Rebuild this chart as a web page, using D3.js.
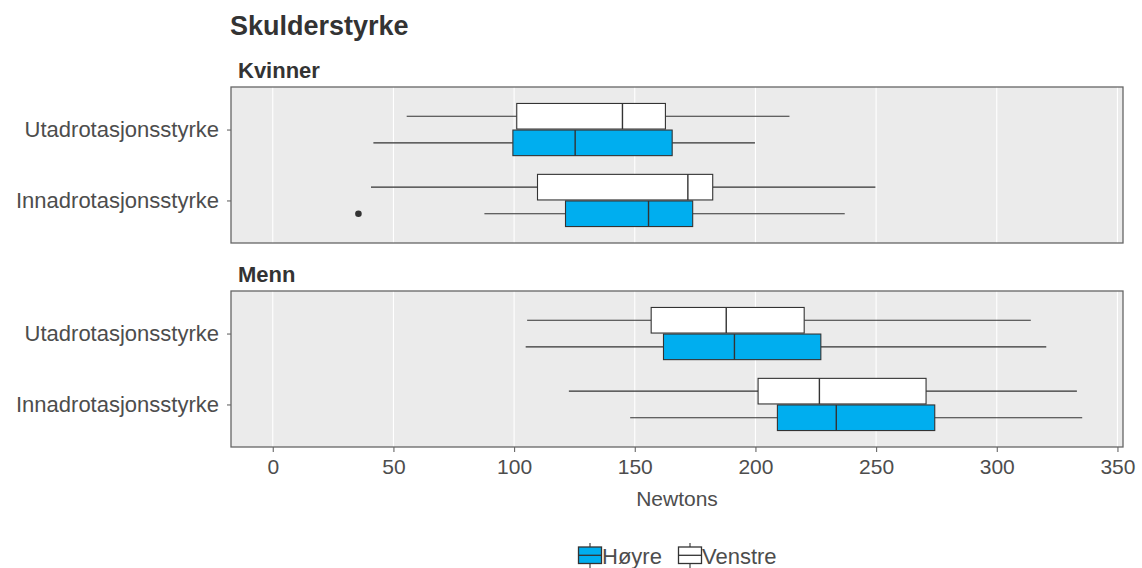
<!DOCTYPE html>
<html>
<head>
<meta charset="utf-8">
<script src="https://cdn.jsdelivr.net/npm/d3@7"></script>
<style>
  html, body { margin: 0; padding: 0; background: #ffffff; }
  svg { display: block; }
  text { font-family: "Liberation Sans", Arial, sans-serif; }
</style>
</head>
<body>
<svg id="chart" width="1142" height="568"></svg>
<script>
// Shoulder strength, grouped by sex (facets), movement (rows) and side (dodged boxes)
const panels = ["Kvinner", "Menn"];
const movements = ["Utadrotasjonsstyrke", "Innadrotasjonsstyrke"];
const sides = ["Høyre", "Venstre"];
const sideFill = ["#00aeef", "#ffffff"];
const xTicks = [0, 50, 100, 150, 200, 250, 300, 350];

// five-number summaries: [lower whisker, Q1, median, Q3, upper whisker]
const kvinnerUtadHoyre    = [41.7, 99.5, 125.3, 165.5, 199.8];
const kvinnerUtadVenstre  = [55.5, 101.1, 144.9, 162.7, 214.1];
const kvinnerInnadHoyre   = [87.7, 121.3, 155.7, 174.0, 237.0];
const kvinnerInnadVenstre = [40.7, 109.7, 172.0, 182.3, 249.7];
const mennUtadHoyre       = [104.8, 161.9, 191.3, 227.1, 320.5];
const mennUtadVenstre     = [105.4, 156.8, 187.9, 220.2, 314.1];
const mennInnadHoyre      = [148.1, 209.1, 233.5, 274.3, 335.4];
const mennInnadVenstre    = [122.7, 201.1, 226.5, 270.7, 333.2];
// outliers
const kvinnerInnadHoyreOutliers = [35.5];

const boxes = [
  { panel: "Kvinner", movement: "Utadrotasjonsstyrke", side: "Høyre",   stats: kvinnerUtadHoyre,    outliers: [] },
  { panel: "Kvinner", movement: "Utadrotasjonsstyrke", side: "Venstre", stats: kvinnerUtadVenstre,  outliers: [] },
  { panel: "Kvinner", movement: "Innadrotasjonsstyrke", side: "Høyre",   stats: kvinnerInnadHoyre,   outliers: kvinnerInnadHoyreOutliers },
  { panel: "Kvinner", movement: "Innadrotasjonsstyrke", side: "Venstre", stats: kvinnerInnadVenstre, outliers: [] },
  { panel: "Menn", movement: "Utadrotasjonsstyrke", side: "Høyre",   stats: mennUtadHoyre,    outliers: [] },
  { panel: "Menn", movement: "Utadrotasjonsstyrke", side: "Venstre", stats: mennUtadVenstre,  outliers: [] },
  { panel: "Menn", movement: "Innadrotasjonsstyrke", side: "Høyre",   stats: mennInnadHoyre,   outliers: [] },
  { panel: "Menn", movement: "Innadrotasjonsstyrke", side: "Venstre", stats: mennInnadVenstre, outliers: [] }
];

const svg = d3.select("#chart");
const textCol = "#4d4d4d";
const lineCol = "#333333";
const font = "'Liberation Sans', Arial, sans-serif";

const left = 231, right = 1123;
const panelTops = [87, 291];
const panelH = 156;

const x = d3.scaleLinear().domain([-17.3, 352.3]).range([left, right]);
const fill = d3.scaleOrdinal().domain(sides).range(sideFill);

// title
svg.append("text").attr("x", 230).attr("y", 35)
  .attr("font-size", 27).attr("font-weight", "bold").attr("fill", "#333333")
  .text("Skulderstyrke");

panels.forEach((p, pi) => {
  const top = panelTops[pi];
  const y = d3.scalePoint().domain(movements).range([top, top + panelH]).padding(0.6);
  // dodge: Venstre above, Høyre below, total width 0.75 of category step
  const dodgeW = y.step() * 0.75;
  const sub = d3.scaleBand().domain(["Venstre", "Høyre"]).range([-dodgeW / 2, dodgeW / 2]);

  // strip label
  svg.append("text").attr("x", 238).attr("y", top - 9)
    .attr("font-size", 22).attr("font-weight", "bold").attr("fill", "#333333")
    .text(p);

  const g = svg.append("g");
  g.append("rect").attr("x", left).attr("y", top).attr("width", right - left).attr("height", panelH)
    .attr("fill", "#ebebeb");
  g.selectAll("line.grid").data(xTicks).join("line").attr("class", "grid")
    .attr("x1", d => x(d)).attr("x2", d => x(d)).attr("y1", top).attr("y2", top + panelH)
    .attr("stroke", "#ffffff").attr("stroke-width", 1.1);

  const data = boxes.filter(b => b.panel === p);
  const bg = g.selectAll("g.box").data(data).join("g").attr("class", "box");
  bg.each(function (d) {
    const s = d3.select(this);
    const y0 = y(d.movement) + sub(d.side);
    const h = sub.bandwidth();
    const ym = y0 + h / 2;
    const [lo, q1, med, q3, hi] = d.stats;
    s.append("line").attr("x1", x(lo)).attr("x2", x(q1)).attr("y1", ym).attr("y2", ym)
      .attr("stroke", lineCol).attr("stroke-width", 1.1);
    s.append("line").attr("x1", x(q3)).attr("x2", x(hi)).attr("y1", ym).attr("y2", ym)
      .attr("stroke", lineCol).attr("stroke-width", 1.1);
    s.append("rect").attr("x", x(q1)).attr("y", y0 + 0.5).attr("width", x(q3) - x(q1)).attr("height", h - 1)
      .attr("fill", fill(d.side)).attr("stroke", lineCol).attr("stroke-width", 1.1);
    s.append("line").attr("x1", x(med)).attr("x2", x(med)).attr("y1", y0 + 0.5).attr("y2", y0 + h - 0.5)
      .attr("stroke", lineCol).attr("stroke-width", 1.4);
    s.selectAll("circle").data(d.outliers).join("circle")
      .attr("cx", v => x(v)).attr("cy", ym).attr("r", 3.3).attr("fill", lineCol);
  });

  g.append("rect").attr("x", left).attr("y", top).attr("width", right - left).attr("height", panelH)
    .attr("fill", "none").attr("stroke", "#666666").attr("stroke-width", 1.3);

  // y axis
  const ya = svg.append("g").attr("transform", `translate(${left},0)`)
    .call(d3.axisLeft(y).tickSize(4).tickPadding(8));
  ya.select(".domain").remove();
  ya.selectAll(".tick line").attr("stroke", "#666666").attr("stroke-width", 1.1);
  ya.selectAll(".tick text").attr("font-size", 22).attr("fill", textCol).attr("font-family", font);

  if (pi === panels.length - 1) {
    const xa = svg.append("g").attr("transform", `translate(0,${top + panelH})`)
      .call(d3.axisBottom(x).tickValues(xTicks).tickSize(5).tickPadding(7));
    xa.select(".domain").remove();
    xa.selectAll(".tick line").attr("stroke", "#666666").attr("stroke-width", 1.1);
    xa.selectAll(".tick text").attr("font-size", 21).attr("fill", textCol).attr("font-family", font);
    svg.append("text").attr("x", (left + right) / 2).attr("y", 506).attr("text-anchor", "middle")
      .attr("font-size", 21).attr("fill", textCol).text("Newtons");
  }
});

// legend
const legend = svg.append("g");
const keyX = [578, 678];
sides.forEach((s, i) => {
  const k = legend.append("g").attr("transform", `translate(${keyX[i]},543)`);
  k.append("line").attr("x1", 12).attr("x2", 12).attr("y1", 0).attr("y2", 26)
    .attr("stroke", lineCol).attr("stroke-width", 1.1);
  k.append("rect").attr("x", 0.5).attr("y", 4).attr("width", 23).attr("height", 16.5)
    .attr("fill", fill(s)).attr("stroke", lineCol).attr("stroke-width", 1.3);
  k.append("line").attr("x1", 0.5).attr("x2", 23.5).attr("y1", 12.3).attr("y2", 12.3)
    .attr("stroke", lineCol).attr("stroke-width", 1.3);
  k.append("text").attr("x", 24).attr("y", 21).attr("font-size", 22).attr("fill", textCol).text(s);
});
</script>
</body>
</html>
